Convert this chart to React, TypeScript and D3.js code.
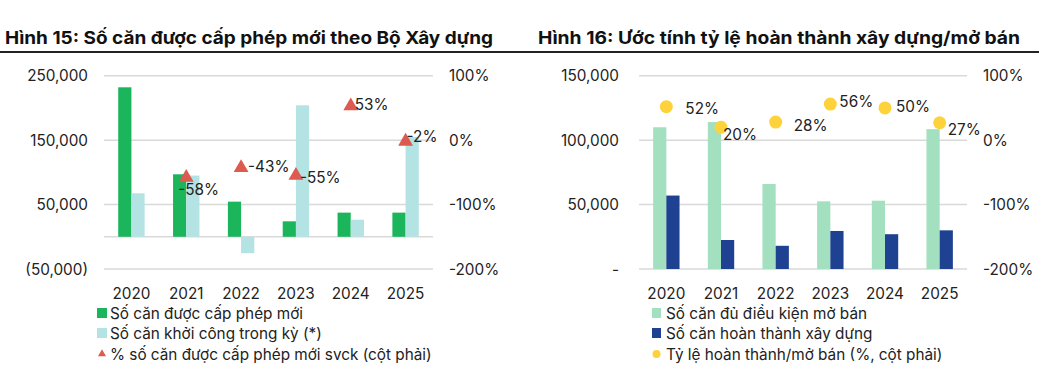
import React from "react";
import * as d3 from "d3";

const years = ["2020", "2021", "2022", "2023", "2024", "2025"];

// Chart 15
const permitted = [232000, 97000, 54500, 24000, 37500, 37500];
const started = [67500, 95000, -25500, 204000, 26500, 155000];
const permittedYoY = [null, -58, -43, -55, 53, -2];
const leftTicks15 = [-50000, 50000, 150000, 250000];
const rightTicks = [-200, -100, 0, 100];

// Chart 16
const eligible = [110000, 114000, 66000, 52500, 53000, 108500];
const completed = [57000, 22500, 18000, 29500, 27000, 30000];
const completionRate = [52, 20, 28, 56, 50, 27];
const leftTicks16 = [0, 50000, 100000, 150000];

// label offsets (dx, dy) relative to markers
const labelOff15 = [[0, 0], [-8, 12], [7, -1], [4, 2], [4, -1], [1, -5]];
const labelOff16 = [[19, 2], [2, 7], [18, 3], [9, -3], [11, -1], [8, 7]];

const FONT = "Inter, 'Open Sans', sans-serif";
const TXT = "#222";
const GRID = "#d9d9d9";
const FS = 15.3;

const C_GREEN = "#1bb55c";
const C_LBLUE = "#b3e3e3";
const C_RED = "#dd5a50";
const C_LGREEN = "#a3e0c0";
const C_NAVY = "#1f4191";
const C_YELLOW = "#fdd23a";

const fmt = (v: number) => (v < 0 ? `(${d3.format(",")(-v)})` : d3.format(",")(v));

function Chart15() {
  const x0 = 104, x1 = 433, yTop = 75.7, yBot = 269;
  const x = d3.scaleBand().domain(years).range([x0, x1]).paddingInner(0).paddingOuter(0);
  const y = d3.scaleLinear().domain([-50000, 250000]).range([yBot, yTop]);
  const yr = d3.scaleLinear().domain([-200, 100]).range([yBot, yTop]);
  const bw = 13.2;
  const tri = d3.symbol().type(d3.symbolTriangle).size(95)();
  const triSmall = d3.symbol().type(d3.symbolTriangle).size(28)();
  return (
    <g fontFamily={FONT}>
      {leftTicks15.map((t) => (
        <g key={t}>
          <line x1={x0} x2={x1} y1={y(t)} y2={y(t)} stroke={GRID} strokeWidth={1.5} />
          <text x={88} y={y(t)} textAnchor="end" dominantBaseline="central" fontSize={FS} fill={TXT}>{fmt(t)}</text>
        </g>
      ))}
      <line x1={x0} x2={x1} y1={y(0)} y2={y(0)} stroke={GRID} strokeWidth={1.5} />
      {rightTicks.map((t) => (
        <text key={t} x={449} y={yr(t)} dominantBaseline="central" fontSize={FS} fill={TXT}>{t}%</text>
      ))}
      {years.map((yv, i) => {
        const c = x(yv)! + x.bandwidth() / 2;
        return (
          <g key={yv}>
            <rect x={c - bw} width={bw} y={Math.min(y(permitted[i]), y(0))} height={Math.abs(y(permitted[i]) - y(0))} fill={C_GREEN} />
            <rect x={c} width={bw} y={Math.min(y(started[i]), y(0))} height={Math.abs(y(started[i]) - y(0))} fill={C_LBLUE} />
            <text x={c} y={293} textAnchor="middle" dominantBaseline="central" fontSize={FS} fill={TXT}>{yv}</text>
          </g>
        );
      })}
      {years.map((yv, i) => {
        const v = permittedYoY[i];
        if (v == null) return null;
        const c = x(yv)! + x.bandwidth() / 2;
        const cy = yr(v);
        return (
          <g key={"t" + yv}>
            <path d={tri!} transform={`translate(${c},${cy})`} fill={C_RED} />
            <text x={c + labelOff15[i][0]} y={cy + labelOff15[i][1]} dominantBaseline="central" fontSize={FS} fill={TXT}>{v}%</text>
          </g>
        );
      })}
      <rect x={97} y={308} width={10} height={10} fill={C_GREEN} />
      <text x={110} y={313.5} dominantBaseline="central" fontSize={FS} fill={TXT}>Số căn được cấp phép mới</text>
      <rect x={97} y={328} width={10} height={10} fill={C_LBLUE} />
      <text x={110} y={333.5} dominantBaseline="central" fontSize={FS} fill={TXT}>Số căn khởi công trong kỳ (*)</text>
      <path d={triSmall!} transform={`translate(102,354)`} fill={C_RED} />
      <text x={110} y={354} dominantBaseline="central" fontSize={FS} fill={TXT}>% số căn được cấp phép mới svck (cột phải)</text>
    </g>
  );
}

function Chart16() {
  const x0 = 639, x1 = 967, yTop = 75.7, yBot = 269;
  const x = d3.scaleBand().domain(years).range([x0, x1]).paddingInner(0).paddingOuter(0);
  const y = d3.scaleLinear().domain([0, 150000]).range([yBot, yTop]);
  const yr = d3.scaleLinear().domain([-200, 100]).range([yBot, yTop]);
  const bw = 13.2;
  return (
    <g fontFamily={FONT}>
      {leftTicks16.map((t) => (
        <g key={t}>
          <line x1={x0} x2={x1} y1={y(t)} y2={y(t)} stroke={GRID} strokeWidth={1.5} />
          <text x={619} y={y(t)} textAnchor="end" dominantBaseline="central" fontSize={FS} fill={TXT}>{t === 0 ? "-" : d3.format(",")(t)}</text>
        </g>
      ))}
      {rightTicks.map((t) => (
        <text key={t} x={983} y={yr(t)} dominantBaseline="central" fontSize={FS} fill={TXT}>{t}%</text>
      ))}
      {years.map((yv, i) => {
        const c = x(yv)! + x.bandwidth() / 2;
        return (
          <g key={yv}>
            <rect x={c - bw} width={bw} y={y(eligible[i])} height={y(0) - y(eligible[i])} fill={C_LGREEN} />
            <rect x={c} width={bw} y={y(completed[i])} height={y(0) - y(completed[i])} fill={C_NAVY} />
            <text x={c} y={293} textAnchor="middle" dominantBaseline="central" fontSize={FS} fill={TXT}>{yv}</text>
          </g>
        );
      })}
      {years.map((yv, i) => {
        const c = x(yv)! + x.bandwidth() / 2;
        const cy = yr(completionRate[i]);
        return (
          <g key={"d" + yv}>
            <circle cx={c} cy={cy} r={6.5} fill={C_YELLOW} />
            <text x={c + labelOff16[i][0]} y={cy + labelOff16[i][1]} dominantBaseline="central" fontSize={FS} fill={TXT}>{completionRate[i]}%</text>
          </g>
        );
      })}
      <rect x={652} y={308} width={9} height={10} fill={C_LGREEN} />
      <text x={666} y={313.5} dominantBaseline="central" fontSize={FS} fill={TXT}>Số căn đủ điều kiện mở bán</text>
      <rect x={652} y={328} width={9} height={10} fill={C_NAVY} />
      <text x={666} y={333.5} dominantBaseline="central" fontSize={FS} fill={TXT}>Số căn hoàn thành xây dựng</text>
      <circle cx={656.5} cy={354} r={4} fill={C_YELLOW} />
      <text x={666} y={354} dominantBaseline="central" fontSize={FS} fill={TXT}>Tỷ lệ hoàn thành/mở bán (%, cột phải)</text>
    </g>
  );
}

export default function App() {
  return (
    <svg width={1039} height={375} style={{ position: "absolute", left: 0, top: 0, background: "#fff" }}>
      <rect width={1039} height={375} fill="#fff" />
      <text x={5} y={44} fontFamily={FONT} fontWeight={700} fontSize={17.5} fill="#111" textLength={488} lengthAdjust="spacingAndGlyphs">Hình 15: Số căn được cấp phép mới theo Bộ Xây dựng</text>
      <text x={538} y={44} fontFamily={FONT} fontWeight={700} fontSize={17.5} fill="#111" textLength={482} lengthAdjust="spacingAndGlyphs">Hình 16: Ước tính tỷ lệ hoàn thành xây dựng/mở bán</text>
      <line x1={0} x2={1039} y1={52} y2={52} stroke="#222" strokeWidth={2} />
      <Chart15 />
      <Chart16 />
    </svg>
  );
}
